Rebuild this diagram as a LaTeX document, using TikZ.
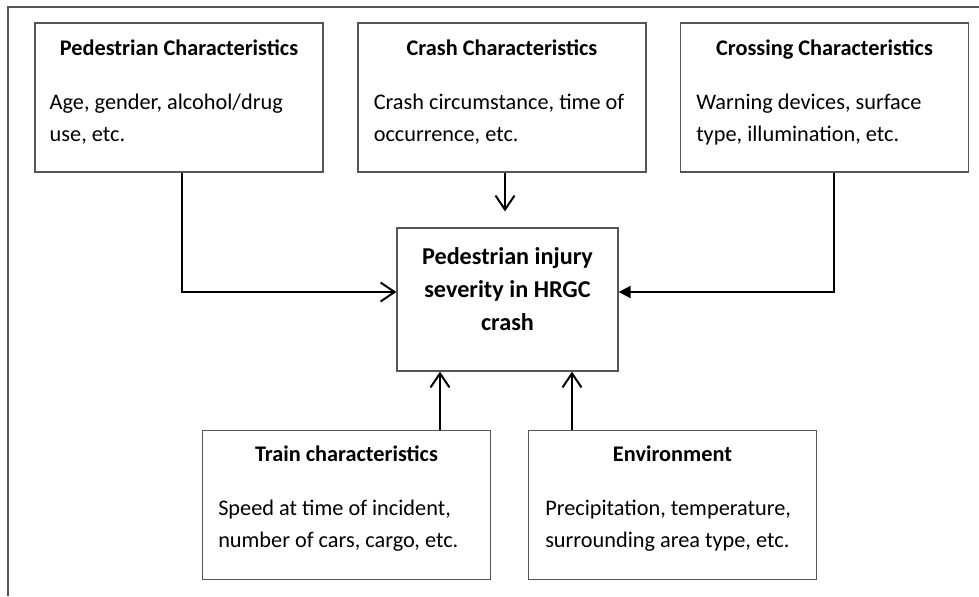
\documentclass[tikz,border=0pt]{standalone}
\usepackage{fontspec}
\setmainfont{Carlito}
\usepackage{tikz}
\usetikzlibrary{arrows.meta, positioning}
\definecolor{frame_grey}{RGB}{85, 85, 85}

\begin{document}
\begin{tikzpicture}[
    x=0.5pt, y=-0.5pt,
    factor/.style={rectangle, draw=frame_grey, line width=0.65pt,
                   minimum width=144pt, minimum height=74.5pt, inner sep=0pt},
    outcome/.style={rectangle, draw=frame_grey, line width=0.65pt,
                    minimum width=110.5pt, minimum height=71.5pt, inner sep=0pt},
    head/.style={anchor=base, inner sep=0pt,
                 font=\fontsize{11.15pt}{15pt}\selectfont\bfseries},
    body/.style={anchor=base west, inner sep=0pt, align=left,
                 font=\fontsize{11.15pt}{16pt}\selectfont},
    focus/.style={anchor=base, inner sep=0pt, align=center,
                  font=\fontsize{12.1pt}{16.5pt}\selectfont\bfseries},
    flow/.style={line width=1pt, -{Straight Barb[length=7pt, width=9.5pt]}},
    feed/.style={line width=1pt, -{Triangle[length=6pt, width=6pt]}},
  ]
    \useasboundingbox (0,0) rectangle (979,596);
    \draw[frame_grey, line width=0.75pt] (8,596) -- (8,7) -- (979,7);

    % boxes
    \node[factor]  (ped)   at (179, 97.5)  {};
    \node[factor]  (crash) at (502, 97.5)  {};
    \node[factor]  (cross) at (824.5, 97.5) {};
    \node[outcome] (sev)   at (507.5, 299.5) {};
    \node[factor]  (train) at (346.5, 505) {};
    \node[factor]  (env)   at (672.5, 505) {};

    \node[head] (pedhead)   at ([yshift=-16.5pt]ped.north)   {Pedestrian Characteristics};
    \node[head] (crashhead) at ([yshift=-16.5pt]crash.north) {Crash Characteristics};
    \node[head] (crosshead) at ([yshift=-16.5pt]cross.north) {Crossing Characteristics};
    \node[head] (trainhead) at ([yshift=-16pt]train.north) {Train characteristics};
    \node[head] (envhead)   at ([yshift=-16pt]env.north)   {Environment};

    \node[body] (pedtext)   at ([xshift=7.5pt, yshift=-59.5pt]ped.north west)
      {Age, gender, alcohol/drug\\use, etc.};
    \node[body] (crashtext) at ([xshift=8pt, yshift=-59.5pt]crash.north west)
      {Crash circumstance, time of\\occurrence, etc.};
    \node[body] (crosstext) at ([xshift=8pt, yshift=-59.5pt]cross.north west)
      {Warning devices, surface\\type, illumination, etc.};
    \node[body] (traintext) at ([xshift=8pt, yshift=-59pt]train.north west)
      {Speed at time of incident,\\number of cars, cargo, etc.};
    \node[body] (envtext)   at ([xshift=8.5pt, yshift=-59pt]env.north west)
      {Precipitation, temperature,\\surrounding area type, etc.};

    \node[focus] (sevtext) at ([yshift=-51.5pt]sev.north)
      {Pedestrian injury\\severity in HRGC\\crash};

    % arrows into the outcome
    \coordinate[xshift=1.5pt, yshift=8pt] (crashtip) at (crash.south |- sev.north);
    \coordinate[xshift=-33.75pt] (trainin) at (sev.south);
    \coordinate[xshift=32.25pt]  (envin)   at (sev.south);

    \draw[flow] ([xshift=1.5pt]ped.south) |- ([yshift=3.75pt]sev.west);
    \draw[flow] (crash.south -| crashtip) -- (crashtip);
    \draw[feed] ([xshift=4.75pt]cross.south) |- ([yshift=3.75pt]sev.east);
    \draw[flow] (train.north -| trainin) -- (trainin);
    \draw[flow] (env.north -| envin) -- (envin);
\end{tikzpicture}
\end{document}
